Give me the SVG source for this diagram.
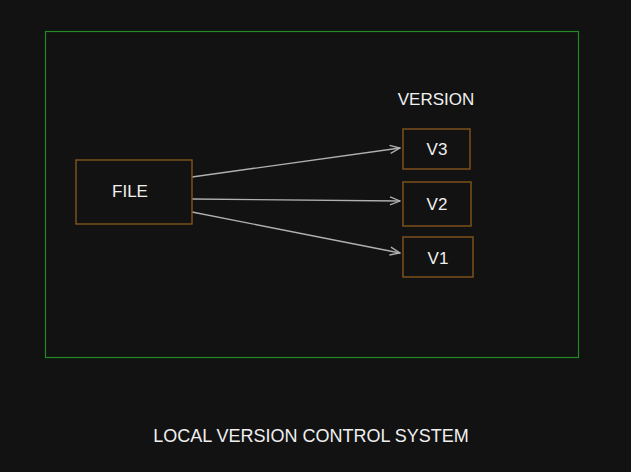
<svg xmlns="http://www.w3.org/2000/svg" width="631" height="472" viewBox="0 0 631 472">
<style>
.box{fill:none;stroke:#84551c;stroke-width:1.4}
.t{fill:#f0f0f0;font-family:"Liberation Sans",Arial,sans-serif;font-size:17px;text-anchor:middle}
.c{fill:none;stroke:#b0b0b0;stroke-width:1.4;marker-end:url(#a)}
</style>
<defs>
<marker id="a" markerWidth="12" markerHeight="10" refX="11" refY="5" orient="auto" markerUnits="userSpaceOnUse">
<path d="M1,1 L11,5 L1,9" fill="none" stroke="#b0b0b0" stroke-width="1.3"/>
</marker>
</defs>
<rect width="631" height="472" fill="#121212"/>
<rect x="45.5" y="31.5" width="533" height="326" fill="none" stroke="#248a24" stroke-width="1.2"/>
<text class="t" x="436" y="105">VERSION</text>
<g id="connectors">
<path class="c" d="M192,177 L400,148"/>
<path class="c" d="M192,199 L400,201"/>
<path class="c" d="M192,212 L400,253"/>
</g>
<g id="file"><rect class="box" x="76" y="160" width="116" height="64"/><text class="t" x="130" y="197">FILE</text></g>
<g id="v3"><rect class="box" x="403" y="129" width="67" height="40"/><text class="t" x="437" y="155">V3</text></g>
<g id="v2"><rect class="box" x="403" y="182" width="68" height="44"/><text class="t" x="437" y="210">V2</text></g>
<g id="v1"><rect class="box" x="403" y="237" width="70" height="40"/><text class="t" x="438" y="264">V1</text></g>
<text class="t" x="311" y="442" style="font-size:18px">LOCAL VERSION CONTROL SYSTEM</text>
</svg>
